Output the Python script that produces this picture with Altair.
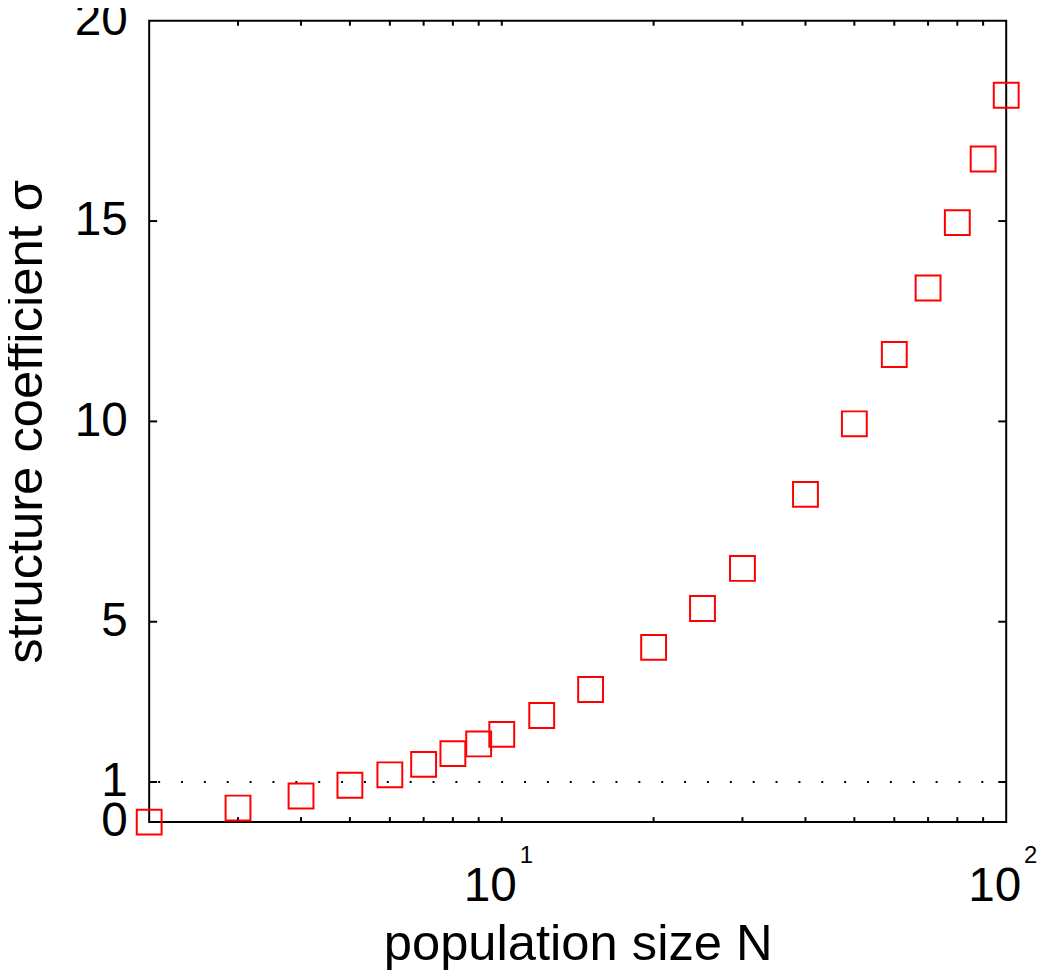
import altair as alt
import pandas as pd

# data
N_values = [2, 3, 4, 5, 6, 7, 8, 9, 10, 12, 15, 20, 25, 30, 40, 50, 60, 70, 80, 90, 100]
sigma_values = [0, 0.35, 0.65, 0.92, 1.18, 1.44, 1.71, 1.95, 2.19, 2.66, 3.31, 4.36,
                5.33, 6.33, 8.18, 9.94, 11.67, 13.33, 14.96, 16.55, 18.14]
x_minor_ticks = [3, 4, 5, 6, 7, 8, 9, 10, 20, 30, 40, 50, 60, 70, 80, 90]
x_label_values = [10, 100]
x_label_exponents = ["1", "2"]
y_tick_values = [0, 1, 5, 10, 15, 20]
ref_line = [1]

W, H = 862, 806
FONT = "Liberation Sans"

pts = pd.DataFrame({"N": N_values, "sigma": sigma_values})
xt = pd.DataFrame({"N": x_minor_ticks})
yt = pd.DataFrame({"sigma": y_tick_values[1:-1]})
sup = pd.DataFrame({"N": x_label_values, "exp": x_label_exponents})
ref = pd.DataFrame({"sigma": ref_line})

xs = alt.Scale(type="log", domain=[2, 100], nice=False)
ys = alt.Scale(domain=[0, 20], nice=False, zero=False)

x_axis = alt.Axis(values=x_label_values, labelExpr="'10'", tickSize=0, domain=False,
                  grid=False, labelFontSize=48, labelPadding=79, labelOffset=-12,
                  labelBaseline="alphabetic", labelFlush=False, labelOverlap=False,
                  labelFont=FONT, labelColor="black", title="population size N",
                  titleFont=FONT, titleFontSize=51, titleFontWeight="normal",
                  titleColor="black", titleBaseline="alphabetic", titleX=W / 2,
                  titleY=138, titleAlign="center")
y_axis = alt.Axis(values=y_tick_values, tickSize=0, domain=False, grid=False,
                  labelFontSize=48, labelPadding=22, labelFont=FONT,
                  labelFlush=False, labelOverlap=False,
                  labelColor="black", title="structure coefficient σ",
                  titleFont=FONT, titleFontSize=51, titleFontWeight="normal",
                  titleColor="black", titleBaseline="alphabetic", titleAngle=-90,
                  titleX=-108, titleY=H / 2, titleAlign="center")

X = alt.X("N:Q", scale=xs, axis=x_axis)
Y = alt.Y("sigma:Q", scale=ys, axis=y_axis)

points = alt.Chart(pts).mark_point(
    shape="square", filled=False, color="red", strokeWidth=2, size=625, opacity=1
).encode(x=X, y=Y)

dotted = alt.Chart(ref).mark_rule(
    color="black", strokeWidth=2, strokeDash=[2, 21]
).encode(y=Y)

xt_bottom = alt.Chart(xt).mark_rule(color="black", strokeWidth=2).encode(
    x=X, y=alt.value(H), y2=alt.value(H - 5))
xt_top = alt.Chart(xt).mark_rule(color="black", strokeWidth=2).encode(
    x=X, y=alt.value(0), y2=alt.value(5))
yt_left = alt.Chart(yt).mark_rule(color="black", strokeWidth=2).encode(
    y=Y, x=alt.value(0), x2=alt.value(8))
yt_right = alt.Chart(yt).mark_rule(color="black", strokeWidth=2).encode(
    y=Y, x=alt.value(W), x2=alt.value(W - 8))

sups = alt.Chart(sup).mark_text(
    align="left", baseline="alphabetic", dx=18, fontSize=24, font=FONT, color="black"
).encode(x=X, y=alt.value(H + 41), text="exp:N")

chart = alt.layer(dotted, xt_bottom, xt_top, yt_left, yt_right, points, sups).properties(
    width=W, height=H, autosize="none", background="white",
    padding={"left": 142, "top": 10, "right": 36, "bottom": 150},
).configure_view(stroke="black", strokeWidth=2)

chart.save("out.html", embed_options={"renderer": "svg", "actions": False})
